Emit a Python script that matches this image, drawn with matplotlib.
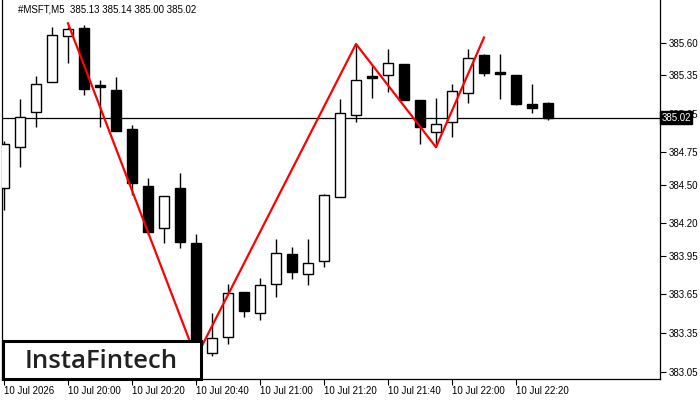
import matplotlib
matplotlib.use('Agg')
import matplotlib.pyplot as plt
from matplotlib.patches import Rectangle

# ---- data ----
times = ['19:40', '19:45', '19:50', '19:55', '20:00', '20:05', '20:10', '20:15',
         '20:20', '20:25', '20:30', '20:35', '20:40', '20:45', '20:50', '20:55',
         '21:00', '21:05', '21:10', '21:15', '21:20', '21:25', '21:30', '21:35',
         '21:40', '21:45', '21:50', '21:55', '22:00', '22:05', '22:10', '22:15',
         '22:20', '22:25', '22:30']
opens = [384.474, 384.792, 385.063, 385.295, 385.652, 385.714, 385.272, 385.233,
         384.931, 384.489, 384.164, 384.474, 384.047, 383.195, 383.319, 383.667,
         383.505, 383.729, 383.962, 383.807, 383.908, 384.404, 385.040, 385.342,
         385.350, 385.435, 385.156, 384.908, 384.985, 385.210, 385.505, 385.373,
         385.350, 385.125, 385.13]
highs = [384.838, 385.164, 385.342, 385.722, 385.722, 385.737, 385.311, 385.334,
         384.962, 384.551, 384.412, 384.590, 384.117, 383.505, 383.729, 383.667,
         383.776, 384.078, 384.016, 384.078, 384.427, 385.164, 385.590, 385.419,
         385.551, 385.435, 385.156, 385.171, 385.280, 385.551, 385.512, 385.512,
         385.350, 385.280, 385.14]
lows = [384.303, 384.636, 384.947, 385.295, 385.443, 385.195, 384.947, 384.916,
        384.419, 384.109, 384.047, 384.009, 383.156, 383.171, 383.264, 383.474,
        383.450, 383.629, 383.768, 383.722, 383.861, 384.404, 384.985, 385.171,
        385.218, 385.156, 384.815, 384.792, 384.869, 385.133, 385.342, 385.164,
        385.117, 385.055, 385.00]
closes = [384.815, 385.024, 385.280, 385.660, 385.706, 385.241, 385.257, 384.916,
          384.512, 384.133, 384.412, 384.055, 383.218, 383.311, 383.660, 383.520,
          383.722, 383.970, 383.822, 383.892, 384.419, 385.055, 385.311, 385.326,
          385.443, 385.156, 384.947, 384.970, 385.226, 385.481, 385.365, 385.357,
          385.125, 385.094, 385.02]

pattern_idx = [4, 12, 22, 27, 30]
pattern_price = [385.75, 383.16, 385.59, 384.79, 385.64]

ytick_vals = [383.05, 383.35, 383.65, 383.95, 384.20, 384.50, 384.75, 385.05, 385.35, 385.60]
ytick_labels = ['383.05', '383.35', '383.65', '383.95', '384.20', '384.50', '384.75',
                '385.05', '385.35', '385.60']
xtick_idx = [0, 4, 8, 12, 16, 20, 24, 28, 32]
xtick_labels = ['10 Jul 2026', '10 Jul 20:00', '10 Jul 20:20', '10 Jul 20:40',
                '10 Jul 21:00', '10 Jul 21:20', '10 Jul 21:40', '10 Jul 22:00',
                '10 Jul 22:20']
last_price = 385.02
last_label = '385.02'
title = '#MSFT,M5  385.13 385.14 385.00 385.02'
logo = 'InstaFintech'

plt.rcParams['font.family'] = ['Liberation Sans', 'DejaVu Sans']

W, H = 700, 400
fig = plt.figure(figsize=(7, 4), dpi=100)
ax = fig.add_axes([2 / W, 21 / H, 658 / W, 379 / H])
ax.set_xlim(-0.125, 41)
ax.set_ylim(382.993, 385.931)

x = list(range(len(times)))
ax.axhline(last_price, color='black', lw=0.9, zorder=1)
ax.vlines(x, lows, highs, color='black', lw=1.0, zorder=2)
for i in x:
    o, c = opens[i], closes[i]
    bull = c >= o
    bottom = min(o, c)
    h = max(abs(c - o), 0.004)
    ax.add_patch(Rectangle((i - 0.31, bottom), 0.62, h,
                           facecolor='white' if bull else 'black',
                           edgecolor='black', lw=1.0, zorder=3))

ax.plot(pattern_idx, pattern_price, color='#ff0000', lw=1.6, zorder=5)

for s in ['left', 'right', 'bottom']:
    ax.spines[s].set_linewidth(0.9)
ax.spines['top'].set_visible(False)

ax.yaxis.tick_right()
ax.set_yticks(ytick_vals)
ax.set_yticklabels(ytick_labels)
ax.set_xticks(xtick_idx)
ax.set_xticklabels(xtick_labels, ha='left')
ax.tick_params(axis='both', direction='out', length=4, width=0.8, labelsize=7, pad=2)
ax.tick_params(axis='x', pad=1)

ax.text(1.002, last_price, last_label, transform=ax.get_yaxis_transform(),
        color='white', fontsize=7, va='center', ha='left', zorder=10,
        bbox=dict(facecolor='black', edgecolor='black', pad=1.2), clip_on=False)

fig.text(18 / W, 1 - 10 / H, title, fontsize=7, ha='left', va='center')

rect = Rectangle((3 / W, 21 / H), 198 / W, 38 / H, transform=fig.transFigure,
                 facecolor='white', edgecolor='black', lw=2.2, zorder=10)
fig.add_artist(rect)
fig.text(101 / W, (H - 368) / H, logo, fontsize=18.5, ha='center', va='baseline',
         color='#222222', family=['Open Sans', 'DejaVu Sans'], weight='semibold',
         zorder=11)

fig.savefig('out.png', dpi=100)
